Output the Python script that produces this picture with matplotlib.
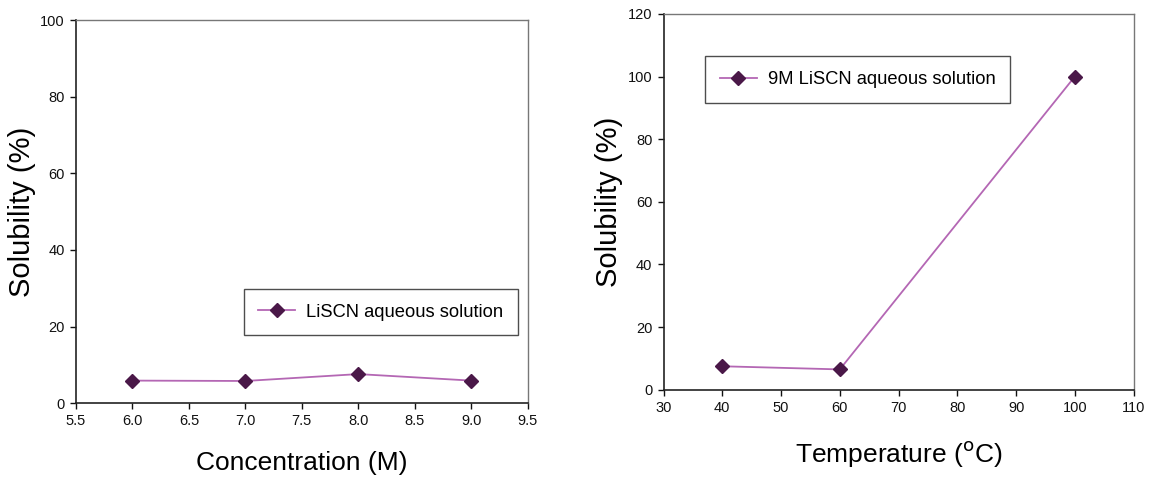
import matplotlib.pyplot as plt
import numpy as np

plt.rcParams['font.family'] = ['Liberation Sans', 'DejaVu Sans']

# left panel: solubility vs concentration
conc = [6.0, 7.0, 8.0, 9.0]
sol_conc = [5.9, 5.8, 7.6, 5.9]
conc_ticks = [5.5, 6.0, 6.5, 7.0, 7.5, 8.0, 8.5, 9.0, 9.5]
sol_ticks_left = [0, 20, 40, 60, 80, 100]

# right panel: solubility vs temperature (9M)
temp = [40, 60, 100]
sol_temp = [7.5, 6.5, 100]
temp_ticks = [30, 40, 50, 60, 70, 80, 90, 100, 110]
sol_ticks_right = [0, 20, 40, 60, 80, 100, 120]

line_col = '#b467b4'
mark_col = '#4a1848'

fig = plt.figure(figsize=(11.52, 4.8), dpi=100)
ax1 = fig.add_axes([0.066, 0.16, 0.392, 0.798])
ax2 = fig.add_axes([0.576, 0.188, 0.408, 0.783])


def style(ax):
    for s in ['left', 'bottom']:
        ax.spines[s].set_color('#222222')
        ax.spines[s].set_linewidth(1.2)
    for s in ['top', 'right']:
        ax.spines[s].set_color('#777777')
        ax.spines[s].set_linewidth(1.0)
    ax.tick_params(direction='out', length=4, width=1, labelsize=10.5, colors='#111111', pad=4)


def legend(ax, anchor):
    leg = ax.legend(loc='upper left', bbox_to_anchor=anchor, fontsize=13.2,
                    frameon=True, fancybox=False, handlelength=2.0,
                    borderpad=0.8, handletextpad=0.6, borderaxespad=0)
    leg.get_frame().set_edgecolor('#222222')
    leg.get_frame().set_linewidth(1.0)


ax1.plot(conc, sol_conc, color=line_col, lw=1.3, marker='D', ms=7.5,
         mfc=mark_col, mec=mark_col, label='LiSCN aqueous solution')
ax1.set_xlim(5.5, 9.5)
ax1.set_ylim(0, 100)
ax1.set_xticks(conc_ticks)
ax1.set_xticklabels([f'{t:.1f}' for t in conc_ticks])
ax1.set_yticks(sol_ticks_left)
ax1.set_xlabel('Concentration (M)', fontsize=19)
ax1.set_ylabel('Solubility (%)', fontsize=21)
ax1.xaxis.set_label_coords(0.5, -0.125)
ax1.yaxis.set_label_coords(-0.089, 0.5)
style(ax1)
legend(ax1, (0.371, 0.298))

ax2.plot(temp, sol_temp, color=line_col, lw=1.3, marker='D', ms=7.5,
         mfc=mark_col, mec=mark_col, label='9M LiSCN aqueous solution')
ax2.set_xlim(30, 110)
ax2.set_ylim(0, 120)
ax2.set_xticks(temp_ticks)
ax2.set_yticks(sol_ticks_right)
ax2.set_xlabel('Temperature ($^{\\mathrm{o}}$C)', fontsize=19)
ax2.set_ylabel('Solubility (%)', fontsize=21)
ax2.xaxis.set_label_coords(0.5, -0.13)
ax2.yaxis.set_label_coords(-0.087, 0.5)
style(ax2)
legend(ax2, (0.089, 0.887))

fig.savefig('out.png', dpi=100)
